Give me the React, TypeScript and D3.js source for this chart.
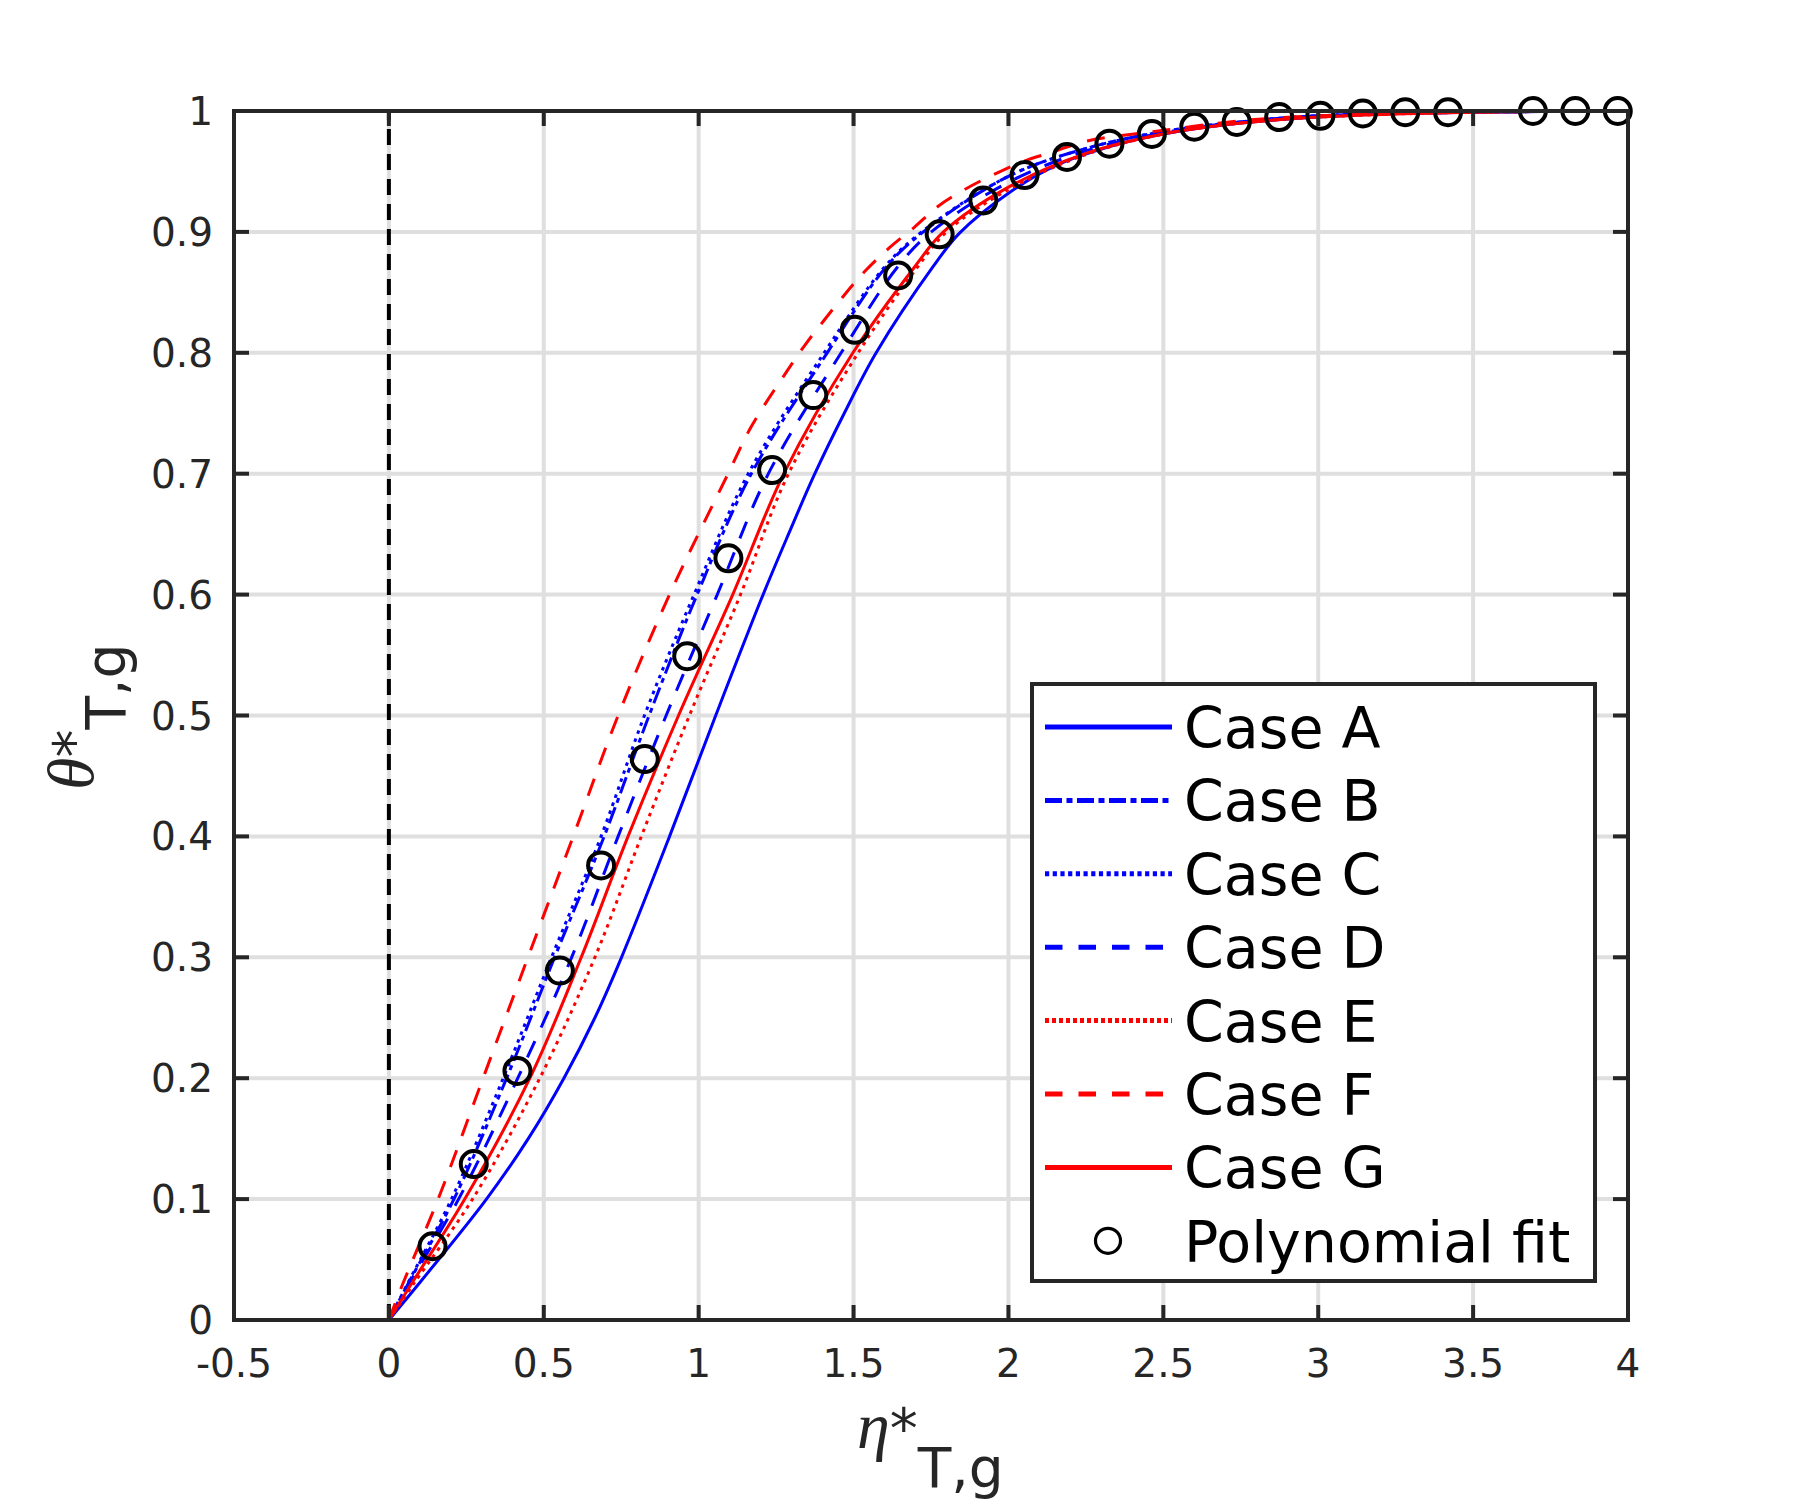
import * as d3 from 'd3'

// axis ticks
const xTicks = [-0.5, 0, 0.5, 1, 1.5, 2, 2.5, 3, 3.5, 4]
const xTickLabels = ['-0.5', '0', '0.5', '1', '1.5', '2', '2.5', '3', '3.5', '4']
const yTicks = [0, 0.1, 0.2, 0.3, 0.4, 0.5, 0.6, 0.7, 0.8, 0.9, 1]
const yTickLabels = ['0', '0.1', '0.2', '0.3', '0.4', '0.5', '0.6', '0.7', '0.8', '0.9', '1']

const seriesNames = ['Case A', 'Case B', 'Case C', 'Case D', 'Case E', 'Case F', 'Case G']

// [eta*, theta*]
const caseA: [number, number][] = [
  [0, 0], [0.1, 0.031], [0.315, 0.1], [0.45, 0.15], [0.565, 0.2], [0.665, 0.25],
  [0.751, 0.3], [0.906, 0.4], [1.055, 0.5], [1.208, 0.6], [1.29, 0.65], [1.375, 0.7], [1.47, 0.75],
  [1.573, 0.8], [1.756, 0.871], [1.842, 0.899], [2.0, 0.932], [2.154, 0.955],
  [2.347, 0.972], [2.5, 0.981], [2.75, 0.99], [3.0, 0.995], [3.25, 0.998], [3.5, 0.999], [4.0, 1.0],
]
const caseB: [number, number][] = [
  [0, 0], [0.062, 0.03], [0.21, 0.1], [0.38, 0.2], [0.535, 0.3], [0.695, 0.4], [0.84, 0.5],
  [0.995, 0.6], [1.17, 0.7], [1.415, 0.8], [1.605, 0.871], [1.725, 0.9], [2.0, 0.946],
  [2.25, 0.969], [2.5, 0.983], [2.75, 0.991], [3.0, 0.996], [3.5, 0.999], [4.0, 1.0],
]
const caseC: [number, number][] = [
  [0, 0], [0.06, 0.03], [0.202, 0.1], [0.369, 0.2], [0.525, 0.3], [0.685, 0.4], [0.825, 0.5],
  [0.985, 0.6], [1.16, 0.7], [1.405, 0.8], [1.6, 0.871], [1.72, 0.9], [2.0, 0.946],
  [2.25, 0.969], [2.5, 0.983], [2.75, 0.991], [3.0, 0.996], [3.5, 0.999], [4.0, 1.0],
]
const caseD: [number, number][] = [
  [0, 0], [0.065, 0.03], [0.225, 0.1], [0.416, 0.2], [0.59, 0.3], [0.74, 0.4], [0.895, 0.5],
  [1.06, 0.6], [1.225, 0.7], [1.46, 0.8], [1.642, 0.871], [1.751, 0.9], [2.0, 0.941],
  [2.25, 0.967], [2.5, 0.982], [2.75, 0.991], [3.0, 0.996], [3.5, 0.999], [4.0, 1.0],
]
const caseE: [number, number][] = [
  [0, 0], [0.08, 0.03], [0.27, 0.1], [0.487, 0.2], [0.665, 0.3], [0.815, 0.4], [0.97, 0.5],
  [1.135, 0.6], [1.29, 0.7], [1.515, 0.8], [1.707, 0.871], [1.8, 0.9], [2.0, 0.935],
  [2.25, 0.964], [2.5, 0.981], [2.75, 0.99], [3.0, 0.995], [3.5, 0.999], [4.0, 1.0],
]
const caseF: [number, number][] = [
  [0, 0], [0.045, 0.03], [0.159, 0.1], [0.304, 0.2], [0.449, 0.3], [0.595, 0.4], [0.74, 0.5],
  [0.906, 0.6], [1.095, 0.7], [1.17, 0.739], [1.283, 0.784], [1.342, 0.806], [1.471, 0.848],
  [1.535, 0.867], [1.616, 0.887], [1.697, 0.904], [1.772, 0.921], [1.858, 0.935], [1.949, 0.947],
  [2.045, 0.958], [2.142, 0.966], [2.25, 0.975], [2.5, 0.984], [2.75, 0.992], [3.0, 0.996],
  [3.5, 0.999], [4.0, 1.0],
]
const caseG: [number, number][] = [
  [0, 0], [0.073, 0.03], [0.245, 0.1], [0.455, 0.2], [0.621, 0.3], [0.772, 0.4], [0.935, 0.5],
  [1.11, 0.6], [1.275, 0.7], [1.498, 0.8], [1.697, 0.871], [1.79, 0.9], [2.0, 0.937],
  [2.25, 0.965], [2.5, 0.981], [2.75, 0.99], [3.0, 0.995], [3.5, 0.999], [4.0, 1.0],
]

// polynomial fit markers
const polyX = [
  0.141, 0.274, 0.415, 0.552, 0.685, 0.826, 0.963, 1.096, 1.237, 1.37, 1.504, 1.644, 1.778, 1.919,
  2.052, 2.189, 2.326, 2.463, 2.6, 2.737, 2.874, 3.007, 3.144, 3.281, 3.419, 3.693, 3.83, 3.967,
]
const polyY = [
  0.061, 0.129, 0.206, 0.289, 0.376, 0.464, 0.549, 0.63, 0.703, 0.765, 0.819, 0.864, 0.898, 0.926,
  0.947, 0.962, 0.973, 0.981, 0.987, 0.991, 0.995, 0.996, 0.998, 0.999, 0.999, 1.0, 1.0, 1.0,
]

const seriesData = [caseA, caseB, caseC, caseD, caseE, caseF, caseG]

const BLUE = '#0000ff'
const RED = '#ff0000'
const AXIS = '#262626'

const styles = [
  { color: BLUE, dash: undefined, legendDash: undefined },
  { color: BLUE, dash: '17,5,5,5', legendDash: '17,4.5,6,4.5' },
  { color: BLUE, dash: '3.5,5', legendDash: '4.2,3.5' },
  { color: BLUE, dash: '18,15', legendDash: '17.5,16' },
  { color: RED, dash: '3.5,5', legendDash: '4,3' },
  { color: RED, dash: '18,15', legendDash: '17.5,16' },
  { color: RED, dash: undefined, legendDash: undefined },
]

const W = 1800
const H = 1500
const left = 234
const right = 1628
const top = 111
const bottom = 1320

export default function App() {
  const x = d3.scaleLinear().domain([-0.5, 4]).range([left, right])
  const y = d3.scaleLinear().domain([0, 1]).range([bottom, top])
  const line = d3
    .line<[number, number]>()
    .x(d => x(d[0]))
    .y(d => Math.max(y(d[1]), top))
    .curve(d3.curveCatmullRom.alpha(0.5))

  const tickLen = 15
  const sans = 'DejaVu Sans, sans-serif'
  const greek = 'Liberation Serif, DejaVu Serif, serif'

  // legend layout
  const lgX = 1032
  const lgY = 684
  const lgW = 563
  const lgH = 597
  const rowY0 = 727
  const rowStep = 73.4

  return (
    <svg
      width={W}
      height={H}
      style={{ position: 'absolute', left: 0, top: 0, background: '#fff' }}
    >
      <rect width={W} height={H} fill="#fff" />

      {/* grid */}
      {xTicks.map(t => (
        <line key={'gx' + t} x1={x(t)} x2={x(t)} y1={top} y2={bottom} stroke="#dfdfdf" strokeWidth={4} />
      ))}
      {yTicks.map(t => (
        <line key={'gy' + t} x1={left} x2={right} y1={y(t)} y2={y(t)} stroke="#dfdfdf" strokeWidth={4} />
      ))}

      {/* dashed line at eta = 0 */}
      <line
        x1={x(0)}
        x2={x(0)}
        y1={y(0)}
        y2={y(1)}
        stroke="#000"
        strokeWidth={4}
        strokeDasharray="16,9"
      />

      {/* curves */}
      {seriesData.map((d, i) => (
        <path
          key={seriesNames[i]}
          d={line(d) ?? ''}
          fill="none"
          stroke={styles[i].color}
          strokeWidth={3}
          strokeDasharray={styles[i].dash}
        />
      ))}

      {/* polynomial fit */}
      {polyX.map((px, i) => (
        <circle key={'p' + i} cx={x(px)} cy={y(polyY[i])} r={13} fill="none" stroke="#000" strokeWidth={4} />
      ))}

      {/* box + ticks */}
      <rect x={left} y={top} width={right - left} height={bottom - top} fill="none" stroke={AXIS} strokeWidth={4} />
      {xTicks.map(t => (
        <g key={'tx' + t}>
          <line x1={x(t)} x2={x(t)} y1={bottom} y2={bottom - tickLen} stroke={AXIS} strokeWidth={4} />
          <line x1={x(t)} x2={x(t)} y1={top} y2={top + tickLen} stroke={AXIS} strokeWidth={4} />
        </g>
      ))}
      {yTicks.map(t => (
        <g key={'ty' + t}>
          <line x1={left} x2={left + tickLen} y1={y(t)} y2={y(t)} stroke={AXIS} strokeWidth={4} />
          <line x1={right} x2={right - tickLen} y1={y(t)} y2={y(t)} stroke={AXIS} strokeWidth={4} />
        </g>
      ))}

      {/* tick labels */}
      {xTicks.map((t, i) => (
        <text key={'lx' + t} x={x(t)} y={bottom + 57} textAnchor="middle" fontFamily={sans} fontSize={39} fill={AXIS}>
          {xTickLabels[i]}
        </text>
      ))}
      {yTicks.map((t, i) => (
        <text key={'ly' + t} x={left - 21} y={y(t)} dy="0.36em" textAnchor="end" fontFamily={sans} fontSize={39} fill={AXIS}>
          {yTickLabels[i]}
        </text>
      ))}

      {/* axis labels */}
      <text x={857} y={1448} fill={AXIS}>
        <tspan fontFamily={greek} fontStyle="italic" fontSize={66}>η</tspan>
        <tspan fontFamily={sans} fontSize={56}>*</tspan>
        <tspan fontFamily={sans} fontSize={55} dy={39}>T,g</tspan>
      </text>
      <text transform="translate(93,790) rotate(-90)" fill={AXIS}>
        <tspan fontFamily={greek} fontStyle="italic" fontSize={66}>θ</tspan>
        <tspan fontFamily={sans} fontSize={56}>*</tspan>
        <tspan fontFamily={sans} fontSize={55} dy={32}>T,g</tspan>
      </text>

      {/* legend */}
      <rect x={lgX} y={lgY} width={lgW} height={lgH} fill="#fff" stroke={AXIS} strokeWidth={4} />
      {seriesNames.map((name, i) => {
        const ry = rowY0 + i * rowStep
        return (
          <g key={'lg' + name}>
            <line
              x1={1045}
              x2={1172}
              y1={ry}
              y2={ry}
              stroke={styles[i].color}
              strokeWidth={5}
              strokeDasharray={styles[i].legendDash}
            />
            <text x={1184} y={ry + 21} fontFamily={sans} fontSize={57} fill="#000">
              {name}
            </text>
          </g>
        )
      })}
      <circle cx={1108} cy={rowY0 + 7 * rowStep} r={12.5} fill="none" stroke="#000" strokeWidth={3.2} />
      <text x={1184} y={rowY0 + 7 * rowStep + 21} fontFamily={sans} fontSize={57} fill="#000">
        Polynomial fit
      </text>
    </svg>
  )
}
